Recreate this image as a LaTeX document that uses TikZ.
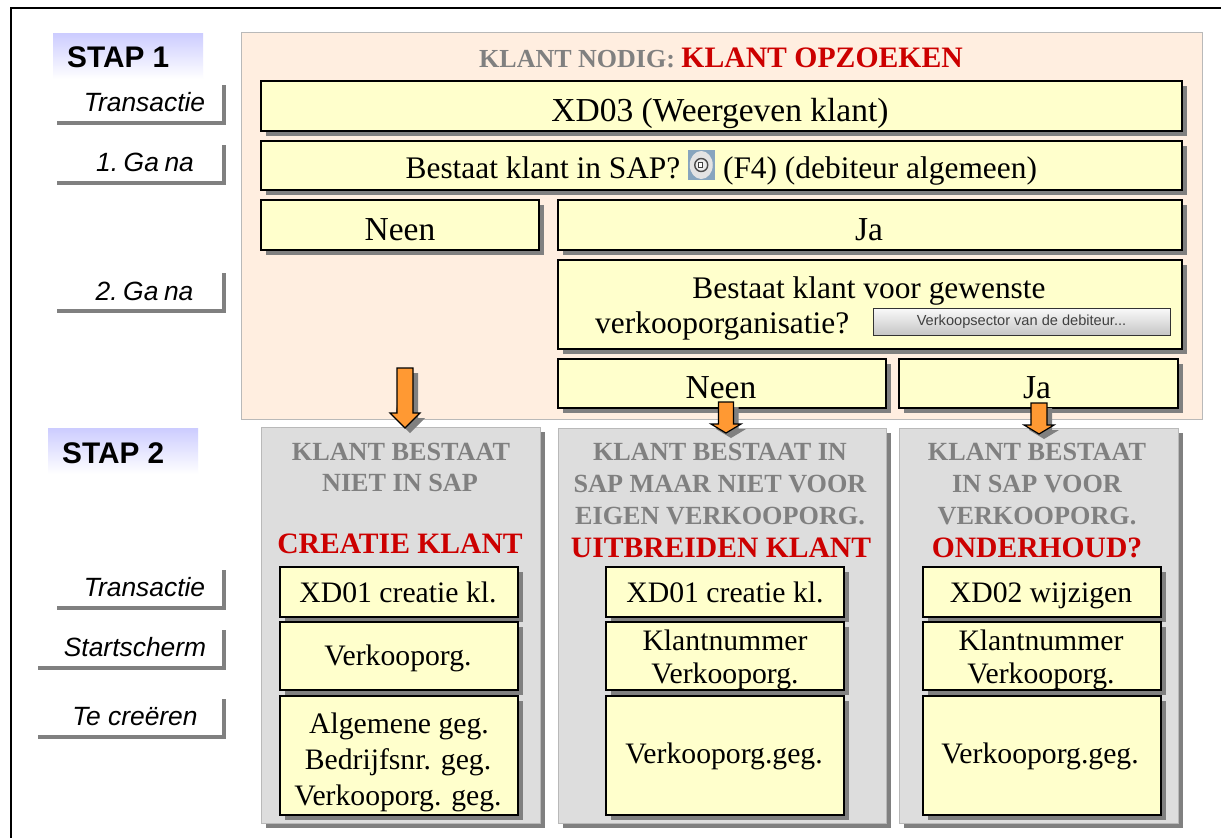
\documentclass[tikz,border=0pt]{standalone}
\usepackage{fontspec}
\setmainfont{Liberation Serif}
\setsansfont{Liberation Sans}
\usetikzlibrary{shadows}
\definecolor{ybg}{RGB}{255,255,204}
\definecolor{peach}{RGB}{255,238,224}
\definecolor{shade}{RGB}{128,128,128}
\definecolor{panelg}{RGB}{221,221,221}
\definecolor{edgeg}{RGB}{185,185,185}
\definecolor{redt}{RGB}{204,0,0}
\definecolor{stapc}{RGB}{204,204,255}
\definecolor{orangea}{RGB}{255,153,51}
\definecolor{iconbg}{RGB}{135,165,190}
\tikzset{
  x=1pt,y=-1pt,
  areabox/.style={anchor=north west,inner sep=0pt,outer sep=0pt,rectangle},
  ybox/.style={areabox,draw=black,line width=1.2pt,fill=ybg,
     general shadow={fill=shade,shadow xshift=4.5pt,shadow yshift=-5pt}},
  greybox/.style={areabox,draw=edgeg,line width=1pt,fill=panelg,
     general shadow={fill=shade,shadow xshift=5pt,shadow yshift=-5pt}},
  peachbox/.style={areabox,draw=edgeg,line width=1pt,fill=peach},
  stapbox/.style={areabox,top color=stapc,bottom color=white,draw=none},
  staptext/.style={anchor=base west,inner sep=0pt,font=\sffamily\bfseries\fontsize{29.8}{32}\selectfont},
  sidelabel/.style={areabox},
  sidetext/.style={anchor=base,inner sep=0pt,font=\sffamily\itshape\fontsize{26.4}{28}\selectfont},
  sideline/.style={draw=shade,line width=4pt},
  greyhead/.style={anchor=base,inner sep=0pt,text=shade,font=\bfseries\fontsize{26.2}{28}\selectfont},
  redhead/.style={anchor=base,inner sep=0pt,text=redt,font=\bfseries\fontsize{29.6}{31}\selectfont},
  bigtext/.style={anchor=base,inner sep=0pt,font=\fontsize{31.4}{33.5}\selectfont},
  hugetext/.style={anchor=base,inner sep=0pt,font=\fontsize{33.5}{36}\selectfont},
  smalltext/.style={anchor=base,inner sep=0pt,font=\fontsize{29.7}{33}\selectfont},
  arrowfill/.style={fill=orangea,draw=black,line width=1.2pt,line join=miter},
  arrowshade/.style={fill=shade,draw=none},
}
\newcommand{\areanode}[7]{\node[#1,minimum width=#4pt-#2pt,minimum height=#5pt-#3pt] (#6) at (#2,#3) {#7};}
\newcommand{\sidenode}[5]{%
  \node[sidelabel,minimum width=#3pt-#2pt,minimum height=#5pt-#4pt] (#1) at (#2,#4) {};
  \draw[sideline] (#1.south west) -| (#1.north east);}
\newcommand{\blockarrow}[6]{% tipx, shaft half, head half, top, headstart, tip
  \fill[arrowshade] ({#1-#2+5},{#4+5}) -- ({#1+#2+5},{#4+5}) -- ({#1+#2+5},{#5+5}) -- ({#1+#3+5},{#5+5}) -- ({#1+5},{#6+5}) -- ({#1-#3+5},{#5+5}) -- cycle;
  \draw[arrowfill] ({#1-#2},#4) -- ({#1+#2},#4) -- ({#1+#2},#5) -- ({#1+#3},#5) -- (#1,#6) -- ({#1-#3},#5) -- ({#1-#2},#5) -- cycle;}
\begin{document}
\begin{tikzpicture}
\useasboundingbox (0,0) rectangle (1221,838);
\fill[white] (0,0) rectangle (1221,838);
% outer frame
\coordinate (frameBL) at (11,838);
\coordinate (frameTL) at (11,8);
\coordinate (frameTR) at (1221,8);
\draw[black,line width=1.8pt] (frameBL) -- (frameTL) -- (frameTR);
% step headings
\areanode{stapbox}{53}{33}{203}{79}{stapA}{}
\node[staptext] (stapAt) at (67,67) {STAP 1};
\areanode{stapbox}{48}{428}{198}{474}{stapB}{}
\node[staptext] (stapBt) at (62,463) {STAP 2};
% side labels
\sidenode{labA}{57}{224}{85}{123}
\node[sidetext] (labAt) at (144.5,111) {Transactie};
\sidenode{labB}{57}{224}{145}{183}
\node[sidetext] (labBt) at (145,171) {1.\hspace{5.6pt}Ga\hspace{5.6pt}na};
\sidenode{labC}{57}{224}{273}{311}
\node[sidetext] (labCt) at (144.5,300) {2.\hspace{5.6pt}Ga\hspace{5.6pt}na};
\sidenode{labD}{57}{224}{570}{608}
\node[sidetext] (labDt) at (144.5,596) {Transactie};
\sidenode{labE}{38}{224}{630}{668}
\node[sidetext] (labEt) at (135,656) {Startscherm};
\sidenode{labF}{38}{224}{699}{737}
\node[sidetext] (labFt) at (135,725) {Te creëren};
% peach panel
\areanode{peachbox}{241}{32}{1202}{419}{panel}{}
\node[anchor=base,inner sep=0pt] (title) at (721,67) {\textcolor{shade}{\bfseries\fontsize{26}{28}\selectfont KLANT NODIG: }\textcolor{redt}{\bfseries\fontsize{29.7}{32}\selectfont KLANT OPZOEKEN}};
% yellow boxes in panel
\areanode{ybox}{261}{81}{1182}{131}{xdiii}{}
\node[hugetext] (xdiiit) at (720,121) {XD03 (Weergeven klant)};
\areanode{ybox}{261}{141}{1182}{190}{bestaat}{}
\node[bigtext] (bestL) at (543,178) {Bestaat klant in SAP?};
\node[bigtext] (bestR) at (880,178) {(F4) (debiteur algemeen)};
\node[areabox,fill=iconbg,minimum width=27.5pt,minimum height=30pt] (icon) at (687.5,150) {};
\fill[white!78!gray] (icon.center) ellipse (11.5 and 14);
\draw[gray!60!black,line width=1.4pt,fill=white!85!gray] (icon.center) circle (6.5);
\draw[black!75,line width=.9pt,fill=white] ([xshift=-3pt,yshift=-2pt]icon.center) rectangle ([xshift=1.5pt,yshift=2.5pt]icon.center);
\areanode{ybox}{261}{200}{539}{250}{neenA}{}
\node[hugetext] (neenAt) at (400,240) {Neen};
\areanode{ybox}{558}{200}{1182}{250}{jaA}{}
\node[hugetext] (jaAt) at (869,240) {Ja};
\areanode{ybox}{558}{260}{1182}{349}{vraag}{}
\node[bigtext] (vraagA) at (869,298) {Bestaat klant voor gewenste};
\node[bigtext,anchor=base west] (vraagB) at (595,333) {verkooporganisatie?};
\node[areabox,draw=black!80,line width=1pt,top color=white!96!gray,bottom color=gray!45!white,minimum width=297pt,minimum height=27pt,text=black!75,font=\sffamily\fontsize{14.6}{16}\selectfont] (knop) at (873,308) {Verkoopsector van de debiteur...};
\areanode{ybox}{558}{359}{886}{408}{neenB}{}
\node[hugetext] (neenBt) at (721,398) {Neen};
\areanode{ybox}{899}{359}{1178}{408}{jaB}{}
\node[hugetext] (jaBt) at (1037,398) {Ja};
% grey panels
\areanode{greybox}{261}{427}{540}{823}{grA}{}
\areanode{greybox}{558}{428}{886}{823}{grB}{}
\areanode{greybox}{899}{428}{1178}{823}{grC}{}
\node[greyhead] (a1) at (401,460) {KLANT BESTAAT};
\node[greyhead] (a2) at (400,491) {NIET IN SAP};
\node[redhead] (a3) at (400,553) {CREATIE KLANT};
\node[greyhead] (b1) at (720,460) {KLANT BESTAAT IN};
\node[greyhead] (b2) at (720,492) {SAP MAAR NIET VOOR};
\node[greyhead] (b3) at (720,524) {EIGEN VERKOOPORG.};
\node[redhead] (b4) at (721,557) {UITBREIDEN KLANT};
\node[greyhead] (c1) at (1037,460) {KLANT BESTAAT};
\node[greyhead] (c2) at (1037,492) {IN SAP VOOR};
\node[greyhead] (c3) at (1037,524) {VERKOOPORG.};
\node[redhead] (c4) at (1037,557) {ONDERHOUD?};
% yellow boxes, column 1
\areanode{ybox}{280}{567}{518}{617}{a4}{}
\node[smalltext] (a4t) at (398,602) {XD01 creatie kl.};
\areanode{ybox}{280}{622}{518}{690}{a5}{}
\node[smalltext] (a5t) at (398,665) {Verkooporg.};
\areanode{ybox}{280}{696}{518}{815}{a6}{}
\node[smalltext] (a6t) at (399,733) {Algemene geg.};
\node[smalltext] (a7t) at (398,769) {Bedrijfsnr. geg.};
\node[smalltext] (a8t) at (398,805) {Verkooporg. geg.};
% column 2
\areanode{ybox}{606}{567}{844}{617}{b5}{}
\node[smalltext] (b5t) at (725,602) {XD01 creatie kl.};
\areanode{ybox}{606}{622}{844}{690}{b6}{}
\node[smalltext] (b6t) at (725,650) {Klantnummer};
\node[smalltext] (b6u) at (725,683) {Verkooporg.};
\areanode{ybox}{606}{696}{844}{815}{b7}{}
\node[smalltext] (b7t) at (724,763) {Verkooporg.geg.};
% column 3
\areanode{ybox}{923}{567}{1161}{617}{c5}{}
\node[smalltext] (c5t) at (1041,602) {XD02 wijzigen};
\areanode{ybox}{923}{622}{1161}{690}{c6}{}
\node[smalltext] (c6t) at (1041,650) {Klantnummer};
\node[smalltext] (c6u) at (1041,683) {Verkooporg.};
\areanode{ybox}{923}{696}{1161}{815}{c7}{}
\node[smalltext] (c7t) at (1040,763) {Verkooporg.geg.};
% block arrows
\blockarrow{405}{8}{15}{368}{413}{428}
\blockarrow{726}{7.5}{15}{402}{424}{433}
\blockarrow{1039}{8}{15}{403}{425}{434}
\end{tikzpicture}
\end{document}
